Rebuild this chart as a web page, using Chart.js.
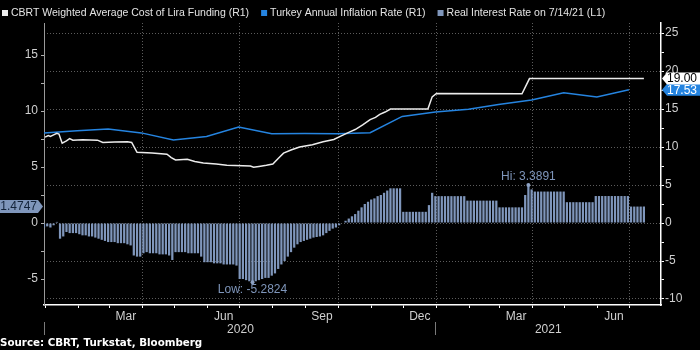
<!DOCTYPE html>
<html>
<head>
<meta charset="utf-8">
<script src="https://cdn.jsdelivr.net/npm/chart.js@4.4.0/dist/chart.umd.min.js"></script>
<style>
  html, body { margin: 0; padding: 0; background: #000; }
  canvas { display: block; }
</style>
</head>
<body>
<canvas id="chart" width="700" height="350"></canvas>
<script>
// all x values are days counted from 1 Jan 2020
const seriesNames = ['CBRT Weighted Average Cost of Lira Funding (R1)',
    'Turkey Annual Inflation Rate (R1)', 'Real Interest Rate on 7/14/21 (L1)'];

// real interest rate, one bar every 3 days from 31 Dec 2019
const BAR_START = -1;
const BAR_STEP = 3;
const realRate = [
    -0.4, -0.3, -0.4, -0.2, 0.1, -1.4, -1.2, -0.8, -0.9, -0.9, -0.9,
    -1.0, -1.1, -1.1, -1.2, -1.2, -1.3, -1.4, -1.5, -1.6, -1.7,
    -1.7, -1.7, -1.8, -1.8, -1.8, -1.9, -2.0, -2.9, -3.0, -3.0,
    -2.7, -2.6, -2.7, -2.7, -2.7, -2.8, -2.8, -2.8, -2.9, -3.3,
    -2.6, -2.6, -2.6, -2.6, -2.7, -2.7, -2.7, -2.7, -3.0, -3.5,
    -3.5, -3.5, -3.6, -3.6, -3.6, -3.7, -3.7, -3.7, -3.7, -3.8,
    -5.0, -5.0, -5.1, -5.2, -5.2824, -5.2, -5.1, -5.0, -4.9, -4.9, -4.7,
    -4.5, -4.1, -3.7, -3.4, -3.0, -2.6, -2.2, -1.9, -1.7, -1.6,
    -1.5, -1.4, -1.3, -1.25, -1.2, -1.1, -0.9, -0.7, -0.5, -0.4,
    -0.2, 0.0, 0.2, 0.4, 0.6, 0.8, 1.1, 1.4, 1.7, 1.9,
    2.1, 2.2, 2.4, 2.5, 2.7, 2.9, 3.1, 3.1, 3.1, 3.1,
    1.0, 1.0, 1.0, 1.0, 1.0, 1.0, 1.0, 1.0, 1.6, 2.7, 2.4,
    2.4, 2.4, 2.4, 2.4, 2.4, 2.4, 2.4, 2.4, 2.4, 2.0,
    2.0, 2.0, 2.0, 2.0, 2.0, 2.0, 2.0, 2.0, 2.0, 1.4,
    1.4, 1.4, 1.4, 1.4, 1.4, 1.4, 1.4, 2.5, 3.3891, 3.0,
    2.81, 2.81, 2.81, 2.81, 2.81, 2.81, 2.81, 2.81, 2.81, 2.81, 1.86,
    1.86, 1.86, 1.86, 1.86, 1.86, 1.86, 1.86, 1.86, 2.41,
    2.41, 2.41, 2.41, 2.41, 2.41, 2.41, 2.41, 2.41, 2.41, 2.41, 1.47,
    1.47, 1.47, 1.47, 1.4747
];

const costDays = [0, 3, 5, 8, 11, 13, 16, 20, 23, 26, 35, 49, 54, 65, 77, 81, 86, 100, 114, 118,
    122, 133, 140, 148, 160, 170, 185, 192, 195, 200, 207, 213, 218, 223, 230, 238, 250, 260, 270, 276,
    285, 290, 297, 304, 309, 313, 318, 323, 358, 362, 366, 446, 453, 560];
const costValues = [11.3, 11.5, 11.4, 11.6, 11.8, 11.7, 10.5, 10.8, 11.1, 10.9, 10.95, 10.9, 10.6, 10.65, 10.7, 10.6, 9.3, 9.2, 9.05, 8.6,
    8.3, 8.4, 8.1, 7.9, 7.75, 7.6, 7.55, 7.5, 7.33, 7.45, 7.6, 7.76, 8.5, 9.2, 9.6, 10.0, 10.3, 10.7, 11.0, 11.4,
    12.0, 12.3, 12.9, 13.6, 13.9, 14.3, 14.6, 15.0, 15.0, 16.6, 17.05, 17.0, 19.0, 19.0];

const inflDays = [-1, 30, 59, 90, 120, 151, 181, 212, 243, 273, 304, 334, 365, 396, 424, 455, 485, 516, 546];
const inflValues = [11.84, 12.15, 12.37, 11.86, 10.94, 11.39, 12.62, 11.76, 11.77, 11.75, 11.89, 14.03,
    14.60, 14.97, 15.61, 16.19, 17.14, 16.59, 17.53];

const monthStarts = [0, 31, 60, 91, 121, 152, 182, 213, 244, 274, 305, 335, 366, 397, 425, 456, 486, 517, 547];
const gridDays = [91, 182, 274, 366, 456, 547];
const monthLabelDays = [75.5, 167, 259, 350.5, 440.5, 532];
const monthLabels = ['Mar', 'Jun', 'Sep', 'Dec', 'Mar', 'Jun'];
const yearStarts = [0, 366];
const yearLabels = ['2020', '2021'];
const leftTicks = [-5, -2.5, 0, 2.5, 5, 7.5, 10, 12.5, 15];
const rightTicks = [-10, -7.5, -5, -2.5, 0, 2.5, 5, 7.5, 10, 12.5, 15, 17.5, 20, 22.5, 25];

const FONT = '"Liberation Sans", Arial, sans-serif';
const WHITE = '#ececec';
const BLUE = '#2584e0';
const STEEL = '#7f96bb';
const GRID = '#5c5c5c';
const TICK = '#cfcfcf';

Chart.defaults.font.family = FONT;

const xTicks = [...monthStarts, ...monthLabelDays].sort((a, b) => a - b);

function tagRight(ctx, yPix, text, bg, fg) {
    const x0 = 662, h = 12;
    ctx.fillStyle = bg;
    ctx.beginPath();
    ctx.moveTo(x0, yPix);
    ctx.lineTo(x0 + 5, yPix - h / 2);
    ctx.lineTo(700, yPix - h / 2);
    ctx.lineTo(700, yPix + h / 2);
    ctx.lineTo(x0 + 5, yPix + h / 2);
    ctx.closePath();
    ctx.fill();
    ctx.fillStyle = fg;
    ctx.textAlign = 'left';
    ctx.fillText(text, x0 + 5, yPix + 0.5);
}

function tagLeft(ctx, yPix, text, bg, fg) {
    const tip = 43, h = 13;
    ctx.fillStyle = bg;
    ctx.beginPath();
    ctx.moveTo(tip, yPix);
    ctx.lineTo(tip - 5, yPix - h / 2);
    ctx.lineTo(0, yPix - h / 2);
    ctx.lineTo(0, yPix + h / 2);
    ctx.lineTo(tip - 5, yPix + h / 2);
    ctx.closePath();
    ctx.fill();
    ctx.fillStyle = fg;
    ctx.textAlign = 'right';
    ctx.fillText(text, tip - 6, yPix + 0.5);
}

const overlay = {
    id: 'overlay',
    afterDraw(chart) {
        const { ctx, chartArea } = chart;
        const { x, y, y1 } = chart.scales;
        ctx.save();
        ctx.textBaseline = 'middle';

        // legend
        ctx.font = '10.5px ' + FONT;
        const colors = [WHITE, BLUE, STEEL];
        let lx = 2;
        seriesNames.forEach((name, i) => {
            ctx.fillStyle = colors[i];
            ctx.fillRect(lx, 10, 6, 6);
            ctx.fillStyle = '#e4e4e4';
            ctx.textAlign = 'left';
            ctx.fillText(name, lx + 9, 13.5);
            lx += 9 + ctx.measureText(name).width + 12;
        });

        // year row
        ctx.font = '12px ' + FONT;
        yearStarts.forEach((d, i) => {
            const px = Math.round(x.getPixelForValue(d)) - 0.5;
            const next = i + 1 < yearStarts.length ? x.getPixelForValue(yearStarts[i + 1]) : chartArea.right;
            ctx.strokeStyle = '#7a7a7a';
            ctx.lineWidth = 1;
            ctx.beginPath();
            ctx.moveTo(px, 322);
            ctx.lineTo(px, 335);
            ctx.stroke();
            ctx.fillStyle = TICK;
            ctx.textAlign = 'center';
            ctx.fillText(yearLabels[i], (px + next) / 2, 330);
        });

        // source
        ctx.font = 'bold 10.3px "DejaVu Sans", sans-serif';
        ctx.fillStyle = '#ffffff';
        ctx.textAlign = 'left';
        ctx.fillText('Source: CBRT, Turkstat, Bloomberg', 0, 343);

        // high / low marks
        const bars = chart.getDatasetMeta(2).data;
        const hi = realRate.indexOf(Math.max(...realRate));
        const lo = realRate.indexOf(Math.min(...realRate));
        ctx.font = '12px ' + FONT;
        ctx.textAlign = 'center';
        [[hi, 'Hi: ', -8], [lo, 'Low: ', 8]].forEach(([idx, prefix, dy]) => {
            const el = bars[idx];
            ctx.fillStyle = '#8da2c4';
            ctx.beginPath();
            ctx.arc(el.x, el.y, 2, 0, Math.PI * 2);
            ctx.fill();
            ctx.fillStyle = STEEL;
            ctx.fillText(prefix + realRate[idx].toFixed(4), el.x, el.y + dy);
        });

        // last value tags
        const lastInfl = inflValues[inflValues.length - 1];
        const lastCost = costValues[costValues.length - 1];
        const lastReal = realRate[realRate.length - 1];
        tagRight(ctx, y1.getPixelForValue(lastInfl), lastInfl.toFixed(2), BLUE, '#ffffff');
        tagRight(ctx, y1.getPixelForValue(lastCost), lastCost.toFixed(2), '#ffffff', '#000000');
        tagLeft(ctx, y.getPixelForValue(lastReal), lastReal.toFixed(4), STEEL, '#13233a');
        ctx.restore();
    }
};

new Chart(document.getElementById('chart'), {
    type: 'bar',
    data: {
        datasets: [
            {
                type: 'line', label: seriesNames[0],
                data: costDays.map((d, i) => ({ x: d, y: costValues[i] })),
                borderColor: WHITE, borderWidth: 1.5, pointRadius: 0, yAxisID: 'y1', order: 1
            },
            {
                type: 'line', label: seriesNames[1],
                data: inflDays.map((d, i) => ({ x: d, y: inflValues[i] })),
                borderColor: BLUE, borderWidth: 1.5, pointRadius: 0, yAxisID: 'y1', order: 2
            },
            {
                type: 'bar', label: seriesNames[2],
                data: realRate.map((v, i) => ({ x: BAR_START + i * BAR_STEP, y: v })),
                backgroundColor: STEEL, barPercentage: 0.7, categoryPercentage: 1,
                yAxisID: 'y', order: 3
            }
        ]
    },
    options: {
        responsive: false,
        animation: false,
        devicePixelRatio: 1,
        events: [],
        layout: { padding: { top: 23, left: 0, right: 0, bottom: 0 } },
        plugins: { legend: { display: false }, tooltip: { enabled: false } },
        scales: {
            x: {
                type: 'linear', min: -1, max: 576, offset: false,
                afterFit: s => { s.height = 45; },
                afterBuildTicks: s => { s.ticks = xTicks.map(v => ({ value: v })); },
                grid: {
                    offset: false,
                    color: c => c.tick && gridDays.includes(c.tick.value) ? GRID : 'transparent',
                    tickColor: c => c.tick && monthStarts.includes(c.tick.value) ? '#ffffff' : 'transparent',
                    tickLength: 3
                },
                border: { color: '#ffffff', width: 1.5, dash: [1, 2] },
                ticks: {
                    autoSkip: false, maxRotation: 0, padding: 1, color: TICK, font: { size: 12 },
                    callback: v => { const i = monthLabelDays.indexOf(v); return i >= 0 ? monthLabels[i] : ''; }
                }
            },
            y: {
                position: 'left', min: -7.32, max: 17.86,
                afterFit: s => { s.width = 44; },
                afterBuildTicks: s => { s.ticks = leftTicks.map(v => ({ value: v })); },
                grid: { drawOnChartArea: false, tickLength: 3, tickColor: '#b0b0b0' },
                border: { color: '#9a9a9a', width: 1 },
                ticks: { padding: 3, color: TICK, font: { size: 12 }, callback: v => v % 5 === 0 ? String(v) : '' }
            },
            y1: {
                position: 'right', min: -10.79, max: 26.32,
                afterFit: s => { s.width = 39; },
                afterBuildTicks: s => { s.ticks = rightTicks.map(v => ({ value: v })); },
                grid: {
                    color: c => c.tick && c.tick.value % 5 === 0 ? GRID : 'transparent',
                    tickColor: '#ffffff', tickLength: 3
                },
                border: { color: '#ffffff', width: 1.5, dash: [1, 2] },
                ticks: { padding: 1, color: TICK, font: { size: 12 }, callback: v => v % 5 === 0 ? String(v) : '' }
            }
        }
    },
    plugins: [overlay]
});
</script>
</body>
</html>
